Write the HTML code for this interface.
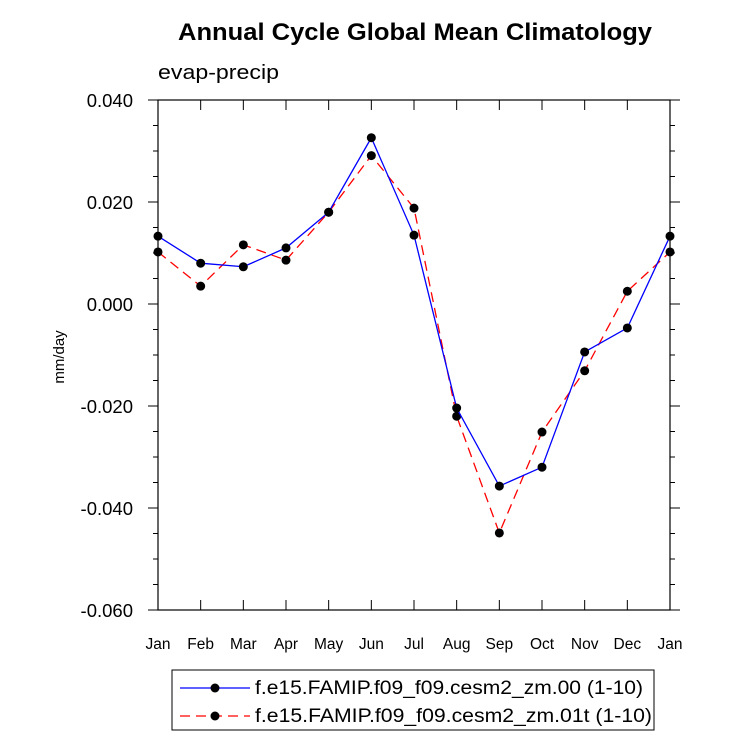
<!DOCTYPE html>
<html><head><meta charset="utf-8"><style>
body{margin:0;background:#fff;}
svg text{font-family:"Liberation Sans",sans-serif;}
</style></head><body>
<svg id="chart" width="733" height="744">
<text x="178" y="40" textLength="474" lengthAdjust="spacingAndGlyphs" font-size="24" font-weight="bold">Annual Cycle Global Mean Climatology</text>
<text x="158" y="79" textLength="121" lengthAdjust="spacingAndGlyphs" font-size="20">evap-precip</text>
<text transform="translate(64,357) rotate(-90)" text-anchor="middle" font-size="15">mm/day</text>
<g id="axes"></g>
<g id="series"></g>
<rect x="172" y="670" width="482" height="60" fill="none" stroke="#000" stroke-width="1"/>
<g>
<line x1="180" y1="688" x2="250" y2="688" stroke="#00f" stroke-width="1.3"/>
<circle cx="215" cy="688" r="4.5" fill="#000"/>
<text x="255" y="694" textLength="388" lengthAdjust="spacingAndGlyphs" font-size="19">f.e15.FAMIP.f09_f09.cesm2_zm.00 (1-10)</text>
</g>
<g>
<line x1="180" y1="716" x2="250" y2="716" stroke="#f00" stroke-width="1.3" stroke-dasharray="10,6"/>
<circle cx="215" cy="716" r="4.5" fill="#000"/>
<text x="255" y="722" textLength="397" lengthAdjust="spacingAndGlyphs" font-size="19">f.e15.FAMIP.f09_f09.cesm2_zm.01t (1-10)</text>
</g>
</svg>
<script>
const months=["Jan","Feb","Mar","Apr","May","Jun","Jul","Aug","Sep","Oct","Nov","Dec","Jan"];
const series00=[0.0133,0.0080,0.0073,0.0110,0.0180,0.0326,0.0135,-0.0204,-0.0357,-0.0320,-0.0094,-0.0047,0.0133];
const series01t=[0.0102,0.0035,0.0116,0.0086,0.0180,0.0291,0.0188,-0.0220,-0.0449,-0.0251,-0.0131,0.0025,0.0102];
const yTicks=[0.04,0.02,0,-0.02,-0.04,-0.06];
const yTickLabels=["0.040","0.020","0.000","-0.020","-0.040","-0.060"];
const L=158,R=670,T=100,B=610,ymin=-0.06,ymax=0.04;
const NS="http://www.w3.org/2000/svg";
function xs(i){return L+(R-L)*i/(months.length-1);}
function ys(v){return B-(v-ymin)/(ymax-ymin)*(B-T);}
function mk(tag,at,parent){const e=document.createElementNS(NS,tag);for(const k in at)e.setAttribute(k,at[k]);parent.appendChild(e);return e;}
const ax=document.getElementById('axes');
const frame=mk('rect',{x:L,y:T,width:R-L,height:B-T,fill:'none',stroke:'#000','stroke-width':1.2},ax);


for(let v=ymin;v<=ymax+1e-9;v+=0.005){
 const y=ys(v);const major=Math.abs(Math.round(v*1000)%20)<1e-6;const len=major?10:5;
 mk('line',{x1:L,y1:y,x2:L-len,y2:y,stroke:'#000'},ax);
 mk('line',{x1:R,y1:y,x2:R+len,y2:y,stroke:'#000'},ax);
}
yTicks.forEach((v,i)=>{const t=mk('text',{x:L-25,y:ys(v)+7,'text-anchor':'end','font-size':18.5},ax);t.textContent=yTickLabels[i];

});
months.forEach((m,i)=>{const x=xs(i);
 mk('line',{x1:x,y1:B,x2:x,y2:B-10,stroke:'#000'},ax);
 mk('line',{x1:x,y1:T,x2:x,y2:T+10,stroke:'#000'},ax);
 const t=mk('text',{x:x,y:B+39,'text-anchor':'middle','font-size':15.5},ax);t.textContent=m;
 
 });
const sg=document.getElementById('series');
function draw(vals,color,dash,name){
 const p=mk('polyline',{points:vals.map((v,i)=>xs(i)+','+ys(v)).join(' '),fill:'none',stroke:color,'stroke-width':1.3,'stroke-dasharray':dash},sg);
 
 
 vals.forEach((v,i)=>{const c=mk('circle',{cx:xs(i),cy:ys(v),r:4.5,fill:'#000'},sg);
 
 });
}
draw(series01t,'#f00','10,6','series-01t');
draw(series00,'#00f','none','series-00');
</script>
</body></html>
